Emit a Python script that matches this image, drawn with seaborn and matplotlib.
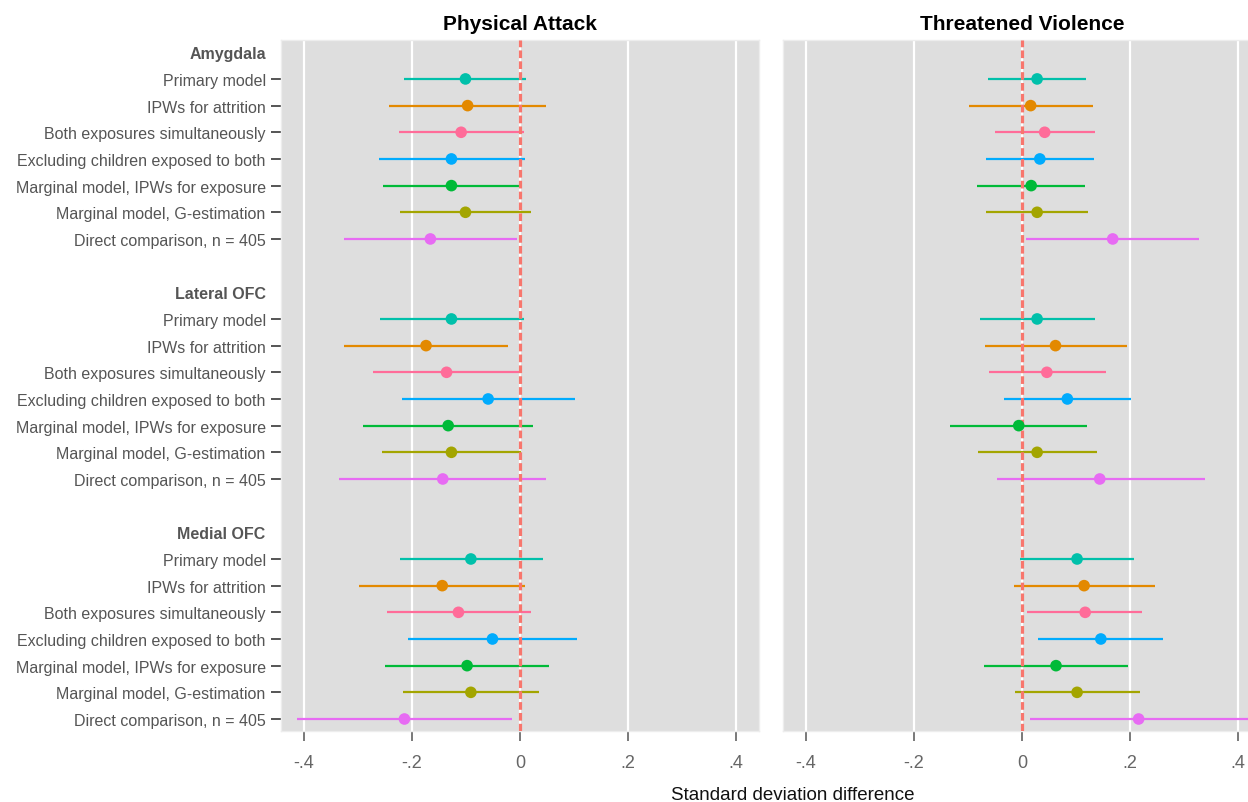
import numpy as np
import pandas as pd
import matplotlib
matplotlib.use("Agg")
import matplotlib.pyplot as plt
import seaborn as sns

# ---------------- data ----------------
outcomes = ["Physical Attack", "Threatened Violence"]
regions = ["Amygdala", "Lateral OFC", "Medial OFC"]
models = [
    "Primary model",
    "IPWs for attrition",
    "Both exposures simultaneously",
    "Excluding children exposed to both",
    "Marginal model, IPWs for exposure",
    "Marginal model, G-estimation",
    "Direct comparison, n = 405",
]

# Physical Attack: estimates and 95% CI (Amygdala, Lateral OFC, Medial OFC; 7 models each)
pa_est = [-0.101, -0.097, -0.109, -0.127, -0.127, -0.101, -0.166,
          -0.127, -0.174, -0.136, -0.059, -0.133, -0.127, -0.143,
          -0.091, -0.144, -0.114, -0.051, -0.098, -0.091, -0.214]
pa_lo = [-0.215, -0.243, -0.224, -0.261, -0.253, -0.222, -0.326,
         -0.259, -0.326, -0.272, -0.219, -0.291, -0.256, -0.335,
         -0.222, -0.298, -0.246, -0.207, -0.250, -0.217, -0.413]
pa_hi = [0.012, 0.048, 0.007, 0.009, 0.001, 0.020, -0.006,
         0.007, -0.023, 0.001, 0.101, 0.024, 0.002, 0.049,
         0.042, 0.009, 0.020, 0.105, 0.053, 0.035, -0.014]

# Threatened Violence
tv_est = [0.028, 0.016, 0.042, 0.033, 0.017, 0.028, 0.168,
          0.028, 0.062, 0.046, 0.084, -0.006, 0.028, 0.144,
          0.102, 0.115, 0.117, 0.146, 0.063, 0.102, 0.216]
tv_lo = [-0.063, -0.098, -0.050, -0.067, -0.083, -0.067, 0.007,
         -0.078, -0.069, -0.061, -0.033, -0.133, -0.081, -0.046,
         -0.004, -0.015, 0.009, 0.030, -0.070, -0.013, 0.014]
tv_hi = [0.118, 0.131, 0.135, 0.133, 0.116, 0.123, 0.327,
         0.136, 0.194, 0.155, 0.201, 0.120, 0.138, 0.338,
         0.207, 0.246, 0.223, 0.262, 0.196, 0.218, 0.440]

xticks = [-0.4, -0.2, 0.0, 0.2, 0.4]
xticklabels = ["-.4", "-.2", "0", ".2", ".4"]

colors = ["#00C0AA", "#E38900", "#FF6C99", "#00ABFD", "#00BA38", "#A3A500", "#E76BF3"]
palette = dict(zip(models, colors))

# ---------------- layout of rows ----------------
rows = []
tick_pos, tick_lab, tick_is_header = [], [], []
slot = 0
for r in regions:
    tick_pos.append(slot); tick_lab.append(r); tick_is_header.append(True)
    slot += 1
    for m in models:
        tick_pos.append(slot); tick_lab.append(m); tick_is_header.append(False)
        rows.append((r, m, slot))
        slot += 1
    slot += 1  # blank gap

records = []
for oc, est, lo, hi in [(outcomes[0], pa_est, pa_lo, pa_hi),
                        (outcomes[1], tv_est, tv_lo, tv_hi)]:
    for (r, m, y), e, l, h in zip(rows, est, lo, hi):
        records.append(dict(outcome=oc, region=r, model=m, y=y, est=e, lo=l, hi=h))
df = pd.DataFrame(records)

# ---------------- plotting ----------------
sns.set_theme(style="darkgrid")
plt.rcParams["font.family"] = ["Liberation Sans", "DejaVu Sans"]

W, H = 1248, 803
fig = plt.figure(figsize=(W / 100, H / 100), dpi=100)
bottom = 1 - 732 / H
height = (732 - 41) / H
ax1 = fig.add_axes([281 / W, bottom, 478 / W, height])
ax2 = fig.add_axes([783 / W, bottom, 478 / W, height])

for ax, oc in zip([ax1, ax2], outcomes):
    sub = df[df.outcome == oc]
    ax.set_facecolor("#DEDEDE")
    ax.grid(False)
    for xv in xticks:
        ax.axvline(xv, color="white", lw=1.6, zorder=1)
    ax.axvline(0, color="#F8766D", lw=2.3, ls=(0, (2.4, 1.0)), zorder=3)
    ax.hlines(sub.y, sub.lo, sub.hi, colors=[palette[m] for m in sub.model],
              lw=1.6, zorder=2)
    sns.scatterplot(data=sub, x="est", y="y", hue="model", palette=palette,
                    hue_order=models, s=70, edgecolor="none", legend=False,
                    ax=ax, zorder=4)
    ax.set_xlim(-0.4426, 0.4426)
    ax.set_ylim(25.45, -0.46)
    ax.set_xticks(xticks)
    ax.set_xticklabels(xticklabels)
    ax.set_xlabel("")
    ax.set_ylabel("")
    ax.set_title(oc, fontsize=15, fontweight="bold", color="black", pad=8)
    for s in ax.spines.values():
        s.set_visible(True)
        s.set_color("#EDEDED")
        s.set_linewidth(1.0)
    ax.tick_params(axis="x", which="major", length=7.5, width=1.1, color="#555555",
                   labelsize=13, labelcolor="#666666", pad=9, bottom=True)

ax1.set_yticks(tick_pos)
ax1.set_yticklabels(tick_lab)
ax1.tick_params(axis="y", length=7, width=1.4, color="#555555",
                labelsize=11.5, labelcolor="#555555", pad=4, left=True)
for lab, tick, hdr in zip(ax1.get_yticklabels(), ax1.yaxis.get_major_ticks(), tick_is_header):
    if hdr:
        lab.set_fontweight("bold")
        tick.tick1line.set_visible(False)

ax2.set_yticks(tick_pos)
ax2.set_yticklabels([])
ax2.tick_params(axis="y", length=0, left=False)

fig.text(793 / W, 1 - 796 / H, "Standard deviation difference", ha="center",
         va="center", fontsize=13.5, color="#111111")

fig.savefig("out.png", dpi=100)
